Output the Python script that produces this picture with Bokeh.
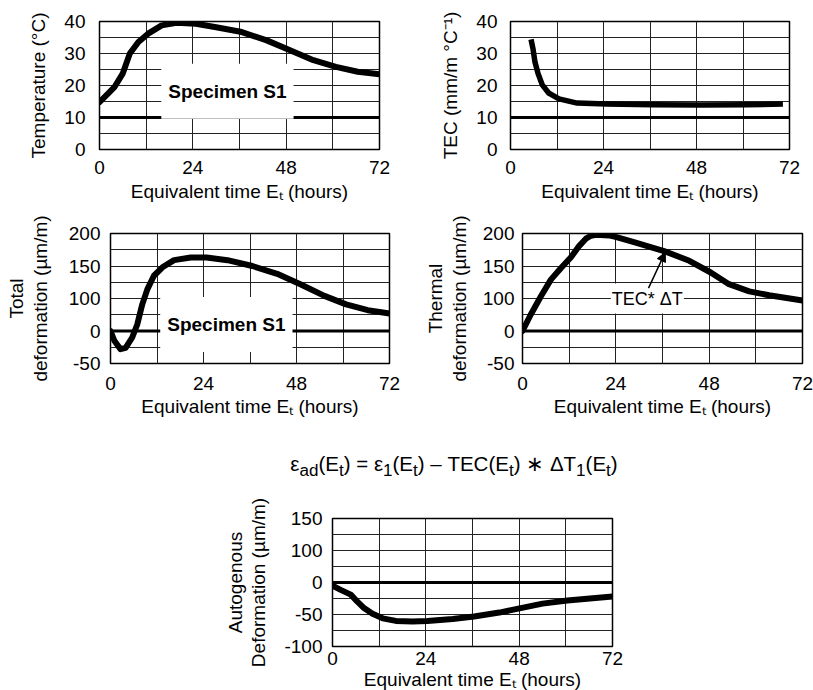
from bokeh.plotting import figure
from bokeh.layouts import column, row
from bokeh.models import FixedTicker, Span, Label, Arrow, NormalHead, Div, Spacer, LinearAxis
from bokeh.embed import file_html
from bokeh.resources import INLINE

FONT = "Liberation Sans"

# ---------------- data ----------------
hour_ticks = [0, 24, 48, 72]
hour_minor = [12, 36, 60]

# Temperature (°C)
temp_hours = [0, 3.9, 6, 7.8, 10, 12.5, 16, 19.8, 24.8, 30, 36.6, 43, 49, 55, 60.8, 66.4, 72]
temp_c = [14.8, 19.6, 23.8, 30, 33.6, 36.2, 38.8, 39.6, 39.3, 38.2, 36.7, 34.1, 31, 27.9, 25.8, 24.3, 23.5]
temp_ticks = [0, 10, 20, 30, 40]
temp_minor = [5, 15, 25, 35]
temp_ref = 10

# TEC
tec_hours = [5.3, 5.8, 6.3, 7.1, 8.2, 9.9, 12.5, 17.2, 24.8, 36.6, 49, 60.8, 70.3]
tec_vals = [34.4, 31.5, 27.4, 23.8, 20.2, 17.6, 15.8, 14.5, 14.2, 14.0, 13.9, 14.0, 14.2]
tec_ref = 10

# Total deformation (axis units; printed labels below)
tot_hours = [0, 1, 2.6, 3.9, 5.6, 6.9, 8.2, 9.5, 11.2, 13.4, 16.4, 20.7, 24.8, 30.2, 36.6, 43, 49, 55.2, 60.8, 66.4, 72]
tot_vals = [0, -15, -28, -26, -10, 10, 41, 64, 85, 98, 109, 113, 113, 109, 100, 88, 72, 54, 41, 32, 27]

# Thermal deformation
th_hours = [0, 2.1, 4.7, 7.3, 9.9, 12.4, 14.6, 16.3, 17.6, 18.9, 22.3, 24.4, 29.1, 36.4, 42.9, 48.4, 53.1, 58.3, 63.4, 72]
th_vals = [0, 25, 53, 79, 97, 113, 131, 142, 146.5, 148, 147, 144, 136, 123, 108, 90, 72, 61, 55, 47]

def_ticks = [-50, 0, 50, 100, 150]
def_minor = [-25, 25, 75, 125]
def_labels = ["-50", "0", "100", "150", "200"]
def_ref = 0

# Autogenous deformation
ad_hours = [0, 2.1, 4.7, 6.4, 8.1, 10.3, 12.9, 16.3, 20.6, 24.4, 30.9, 36.4, 42.9, 48.4, 54, 60.4, 66.9, 72]
ad_vals = [-5, -11.5, -19, -30, -40, -49, -56, -60, -61, -60, -57, -53, -47, -40, -33, -28, -24.5, -22]
ad_ticks = [-100, -50, 0, 50, 100]
ad_minor = [-75, -25, 25, 75]
ad_labels = ["-100", "-50", "0", "100", "150"]
ad_ref = 0

XLABEL = "Equivalent time E\u209c (hours)"


def style_axis(ax):
    ax.axis_line_color = None
    ax.major_tick_out = 0
    ax.major_tick_in = 0
    ax.minor_tick_out = 0
    ax.minor_tick_in = 0
    ax.major_label_text_font = FONT
    ax.major_label_text_font_size = "19px"
    ax.major_label_text_color = "black"
    ax.axis_label_text_font = FONT
    ax.axis_label_text_font_size = "19px"
    ax.axis_label_text_font_style = "normal"
    ax.axis_label_text_color = "black"


def make_fig(width, height, borders, y_range, y_major, y_minor, y_labels, ylabel,
             y_std, ylab_std, x_std, xlab_std, outer_label=None):
    left, right, top, bottom = borders
    p = figure(width=width, height=height, x_range=(0, 72), y_range=y_range,
               output_backend="svg", toolbar_location=None,
               min_border_left=left, min_border_right=right,
               min_border_top=top, min_border_bottom=bottom)
    p.background_fill_color = "white"
    p.border_fill_color = "white"
    p.outline_line_color = "black"
    p.outline_line_width = 1.5
    p.xaxis.ticker = FixedTicker(ticks=hour_ticks, minor_ticks=hour_minor)
    p.yaxis.ticker = FixedTicker(ticks=y_major, minor_ticks=y_minor)
    if y_labels is not None:
        p.yaxis.major_label_overrides = {t: s for t, s in zip(y_major, y_labels)}
    p.xaxis.axis_label = XLABEL
    p.yaxis.axis_label = ylabel
    for ax in p.axis:
        style_axis(ax)
    p.yaxis.major_label_standoff = y_std
    p.yaxis.axis_label_standoff = ylab_std
    p.xaxis.major_label_standoff = x_std
    p.xaxis.axis_label_standoff = xlab_std
    if outer_label is not None:
        outer = LinearAxis(ticker=FixedTicker(ticks=[]), axis_label=outer_label)
        style_axis(outer)
        outer.axis_label_standoff = 0
        outer.major_label_standoff = 0
        p.add_layout(outer, "left")
    p.grid.grid_line_color = "#222222"
    p.grid.grid_line_width = 1
    p.grid.minor_grid_line_color = "#222222"
    p.grid.minor_grid_line_width = 1
    return p


def specimen_label(p, x, y):
    p.add_layout(Label(x=x, y=y, text="Specimen S1", text_font=FONT,
                       text_font_size="19px", text_font_style="bold",
                       text_align="center", text_baseline="middle",
                       text_color="black",
                       background_fill_color="white", background_fill_alpha=1.0,
                       padding=(7, 17)))


# ---------- row 1 ----------
f1 = make_fig(408, 210, (99, 29, 21, 61), (0, 40), temp_ticks, temp_minor, None,
              "Temperature (\u00b0C)", 14, 12, 11, 4)
f1.add_layout(Span(location=temp_ref, dimension="width", line_color="black", line_width=3))
f1.line(temp_hours, temp_c, line_color="black", line_width=6, line_join="round", line_cap="round")
specimen_label(f1, 32.9, 18.2)

f2 = make_fig(405, 210, (102, 24, 21, 61), (0, 40), temp_ticks, temp_minor, None,
              "TEC (mm/m \u00b0C\u207b\u00b9)", 13, 12, 11, 4)
f2.add_layout(Span(location=tec_ref, dimension="width", line_color="black", line_width=3))
f2.line(tec_hours, tec_vals, line_color="black", line_width=5.5, line_join="round")

# ---------- row 2 ----------
f3 = make_fig(408, 210, (110, 19, 23, 57), (-50, 150), def_ticks, def_minor, def_labels,
              "deformation (\u00b5m/m)", 10, 15, 13, 3, outer_label="Total")
f3.line(tot_hours, tot_vals, line_color="black", line_width=6, line_join="round", line_cap="round")
f3.add_layout(Span(location=def_ref, dimension="width", line_color="black", line_width=3))
specimen_label(f3, 29.9, 10)

f4 = make_fig(405, 210, (114, 11, 23, 57), (-50, 150), def_ticks, def_minor, def_labels,
              "deformation (\u00b5m/m)", 8, 10, 13, 3, outer_label="Thermal")
f4.add_layout(Span(location=def_ref, dimension="width", line_color="black", line_width=3))
f4.line(th_hours, th_vals, line_color="black", line_width=6, line_join="round", line_cap="round")
f4.add_layout(Label(x=32.1, y=50, text="TEC* \u0394T", text_font=FONT, text_font_size="18px",
                    text_align="center", text_baseline="middle", text_color="black",
                    background_fill_color="white", background_fill_alpha=1.0, padding=(1, 5)))
f4.add_layout(Arrow(x_start=32.4, y_start=66, x_end=36.7, y_end=121,
                    line_color="black", line_width=1.5,
                    end=NormalHead(size=9, fill_color="black", line_color="black")))

# ---------- row 3 ----------
eq_html = ('<div style="margin-top:27px;line-height:24px;white-space:nowrap;">'
           '\u03b5<sub>ad</sub>(E<sub>t</sub>) = \u03b5<sub>1</sub>(E<sub>t</sub>) \u2013 '
           'TEC(E<sub>t</sub>) \u2217 \u0394T<sub>1</sub>(E<sub>t</sub>)</div>')
eq = Div(text=eq_html, width=500, height=60,
         styles={"font-family": FONT, "font-size": "20.5px", "text-align": "center",
                 "color": "black"})

f5 = make_fig(813, 210, (332, 201, 28, 54), (-100, 100), ad_ticks, ad_minor, ad_labels,
              "Deformation (\u00b5m/m)", 10, 12, 5, 1, outer_label="Autogenous")
f5.add_layout(Span(location=ad_ref, dimension="width", line_color="black", line_width=3))
f5.line(ad_hours, ad_vals, line_color="black", line_width=6, line_join="round", line_cap="round")

layout = column(row(f1, f2), row(f3, f4), row(Spacer(width=199, height=60), eq), f5)

open("out.html", "w").write(file_html(layout, INLINE))
